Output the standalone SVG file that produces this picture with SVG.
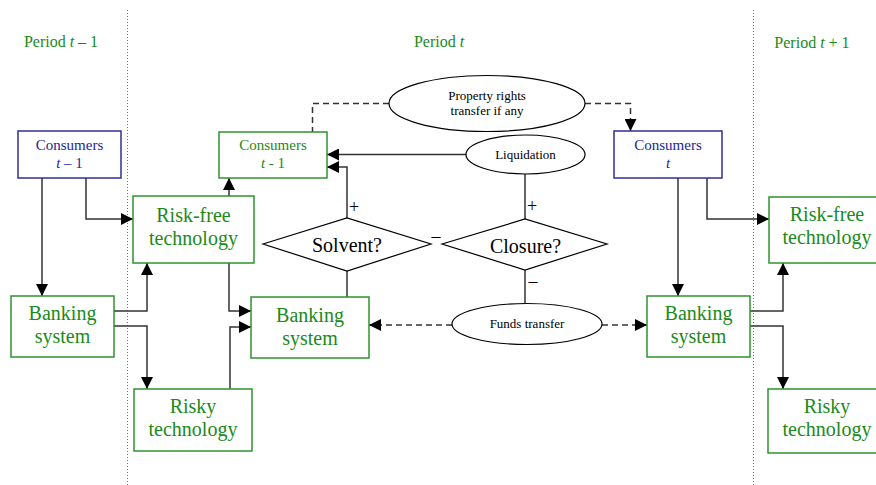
<svg xmlns="http://www.w3.org/2000/svg" width="876" height="485" viewBox="0 0 876 485">
<defs>
<marker id="ah" markerUnits="userSpaceOnUse" markerWidth="12" markerHeight="12" refX="12" refY="6" orient="auto">
<path d="M0,0 L12,6 L0,12 z" fill="#000"/>
</marker>
</defs>
<style>
text{font-family:"Liberation Serif","DejaVu Serif","Times New Roman",serif}
.g{fill:#fff;stroke:#2e932e;stroke-width:1.5}
.b{fill:#fff;stroke:#2f2f96;stroke-width:1.5}
.k{fill:#fff;stroke:#000;stroke-width:1.2}
.gt{fill:#1a8a1a;text-anchor:middle}
.bt{fill:#24249a;text-anchor:middle;font-size:15px}
.kt{fill:#000;text-anchor:middle}
.big{font-size:20px}
.c{fill:none;stroke:#333;stroke-width:1.5}
.a{marker-end:url(#ah)}
.d{stroke-dasharray:6,4}
.v{fill:none;stroke:#3a9a3a;stroke-width:1;stroke-dasharray:1,2}
</style>
<g id="period-lines">
<line class="v" x1="127.5" y1="10" x2="127.5" y2="485"/>
<line class="v" x1="753.5" y1="10" x2="753.5" y2="485"/>
<text class="gt" x="61" y="47" font-size="16" font-family="Liberation Serif, serif">Period <tspan font-style="italic">t</tspan> – 1</text>
<text class="gt" x="439" y="47" font-size="16" font-family="Liberation Serif, serif">Period <tspan font-style="italic">t</tspan></text>
<text class="gt" x="812" y="48" font-size="16" font-family="Liberation Serif, serif">Period <tspan font-style="italic">t</tspan> + 1</text>
</g>
<g id="connectors">
<path class="c a" d="M42,178 V296"/>
<path class="c a" d="M86,178 V219 H133"/>
<path class="c a" d="M114,311 H147 V263"/>
<path class="c a" d="M114,326 H147 V389"/>
<path class="c a" d="M229,196 V178"/>
<path class="c a" d="M229,263 V311 H251"/>
<path class="c a" d="M230,389 V327 H251"/>
<path class="c a" d="M466,154.5 H327"/>
<path class="c a" d="M347,218 V167 H327"/>
<path class="c" d="M525,219 V174"/>
<path class="c" d="M347,271 V297"/>
<path class="c" d="M525,270 V303"/>
<path class="c d" d="M389,103.5 H312.5 V132"/>
<path class="c d a" d="M585,103.5 H630.5 V131"/>
<path class="c d a" d="M452,325 H369"/>
<path class="c d a" d="M602,325 H647"/>
<path class="c a" d="M678,178 V296"/>
<path class="c a" d="M707,178 V219 H769"/>
<path class="c a" d="M750,311 H783 V263"/>
<path class="c a" d="M750,326 H783 V389"/>
<text class="kt" x="354" y="213" font-size="18" font-family="Liberation Serif, serif">+</text>
<text class="kt" x="532" y="212" font-size="18" font-family="Liberation Serif, serif">+</text>
<text class="kt" x="436" y="242" font-size="18" font-family="Liberation Serif, serif">–</text>
<text class="kt" x="533" y="287" font-size="18" font-family="Liberation Serif, serif">–</text>
</g>
<g id="consumers-t-minus-1-left">
<rect class="b" x="18" y="131" width="103" height="47"/>
<text class="bt" x="69.5" y="150" font-family="Liberation Serif, serif">Consumers</text>
<text class="bt" x="69.5" y="168" font-family="Liberation Serif, serif"><tspan font-style="italic">t</tspan> – 1</text>
</g>
<g id="riskfree-left">
<rect class="g" x="133" y="196" width="121" height="67"/>
<text class="gt big" x="193.5" y="222" font-family="Liberation Serif, serif">Risk-free</text>
<text class="gt big" x="193.5" y="245" font-family="Liberation Serif, serif">technology</text>
</g>
<g id="banking-left">
<rect class="g" x="11" y="296" width="103" height="61"/>
<text class="gt big" x="62.5" y="320" font-family="Liberation Serif, serif">Banking</text>
<text class="gt big" x="62.5" y="343" font-family="Liberation Serif, serif">system</text>
</g>
<g id="risky-left">
<rect class="g" x="134" y="389" width="118" height="62"/>
<text class="gt big" x="193" y="413" font-family="Liberation Serif, serif">Risky</text>
<text class="gt big" x="193" y="436" font-family="Liberation Serif, serif">technology</text>
</g>
<g id="consumers-t-minus-1-mid">
<rect class="g" x="219" y="132" width="108" height="46"/>
<text class="gt" font-size="15" x="273" y="150" font-family="Liberation Serif, serif">Consumers</text>
<text class="gt" font-size="15" x="273" y="168" font-family="Liberation Serif, serif"><tspan font-style="italic">t</tspan> - 1</text>
</g>
<g id="banking-mid">
<rect class="g" x="251" y="297" width="118" height="61"/>
<text class="gt big" x="310" y="322" font-family="Liberation Serif, serif">Banking</text>
<text class="gt big" x="310" y="345" font-family="Liberation Serif, serif">system</text>
</g>
<g id="property-rights">
<ellipse class="k" cx="487" cy="103.5" rx="98" ry="28"/>
<text class="kt" font-size="13" x="487" y="100" font-family="Liberation Serif, serif">Property rights</text>
<text class="kt" font-size="13" x="487" y="115" font-family="Liberation Serif, serif">transfer if any</text>
</g>
<g id="liquidation">
<ellipse class="k" cx="525.5" cy="154.5" rx="59.5" ry="19.5"/>
<text class="kt" font-size="13" x="525.5" y="158.5" font-family="Liberation Serif, serif">Liquidation</text>
</g>
<g id="solvent">
<polygon class="k" points="263,244 347,218 431,244 347,271"/>
<text class="kt big" x="347" y="252" font-family="Liberation Serif, serif">Solvent?</text>
</g>
<g id="closure">
<polygon class="k" points="442,244 525,219 607,244 525,270"/>
<text class="kt big" x="525.5" y="253" font-family="Liberation Serif, serif">Closure?</text>
</g>
<g id="funds-transfer">
<ellipse class="k" cx="527" cy="324" rx="75" ry="20.5"/>
<text class="kt" font-size="13" x="527" y="328" font-family="Liberation Serif, serif">Funds transfer</text>
</g>
<g id="consumers-t">
<rect class="b" x="614" y="131" width="108" height="47"/>
<text class="bt" x="668" y="150" font-family="Liberation Serif, serif">Consumers</text>
<text class="bt" x="668" y="168" font-style="italic" font-family="Liberation Serif, serif">t</text>
</g>
<g id="banking-right">
<rect class="g" x="647" y="296" width="103" height="61"/>
<text class="gt big" x="698.5" y="320" font-family="Liberation Serif, serif">Banking</text>
<text class="gt big" x="698.5" y="343" font-family="Liberation Serif, serif">system</text>
</g>
<g id="riskfree-right">
<rect class="g" x="769" y="197" width="120" height="66"/>
<text class="gt big" x="827" y="221" font-family="Liberation Serif, serif">Risk-free</text>
<text class="gt big" x="827" y="244" font-family="Liberation Serif, serif">technology</text>
</g>
<g id="risky-right">
<rect class="g" x="768" y="389" width="120" height="64"/>
<text class="gt big" x="827" y="413" font-family="Liberation Serif, serif">Risky</text>
<text class="gt big" x="827" y="436" font-family="Liberation Serif, serif">technology</text>
</g>
</svg>
